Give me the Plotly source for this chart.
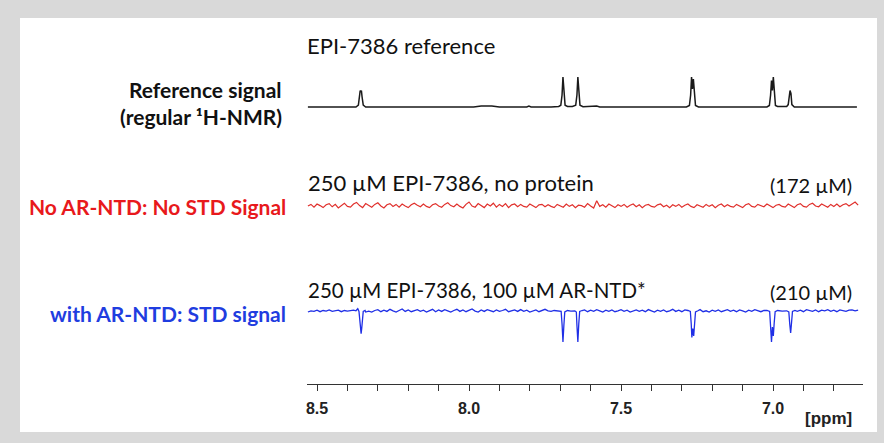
import numpy as np
import plotly.graph_objects as go

W, H = 884, 443

# ---------------- data ----------------
tick_vals = [8.5, 8.0, 7.5, 7.0]
tick_text = ["8.5", "8.0", "7.5", "7.0"]

# Reference 1H spectrum (ppm, relative intensity)
ref_ppm = [8.530, 8.450, 8.445, 8.440, 8.372, 8.364, 8.360, 8.358, 8.356, 8.354, 8.352, 8.348, 8.340,
           8.045, 8.040, 8.035, 7.985, 7.960, 7.945, 7.925, 7.900, 7.810, 7.803, 7.796,
           7.730, 7.705, 7.698, 7.694, 7.691, 7.688, 7.684, 7.676, 7.660, 7.649, 7.645, 7.642,
           7.639, 7.635, 7.625, 7.590, 7.580, 7.570, 7.390, 7.385, 7.380,
           7.285, 7.275, 7.271, 7.268, 7.265, 7.262, 7.259, 7.255, 7.245, 7.180, 7.175, 7.170,
           7.085, 7.080, 7.075, 7.020, 7.012, 7.008, 7.005, 7.002, 6.999, 6.996, 6.992, 6.985,
           6.955, 6.950, 6.947, 6.944, 6.941, 6.938, 6.930, 6.724]
ref_int = [0.00, 0.00, 0.012, 0.00, 0.00, 0.06, 0.35, 0.55, 0.50, 0.55, 0.35, 0.06, 0.00,
           0.00, 0.025, 0.00, 0.00, 0.03, 0.04, 0.03, 0.00, 0.00, 0.03, 0.00,
           0.00, 0.02, 0.06, 0.40, 1.00, 0.40, 0.06, 0.02, 0.02, 0.06, 0.40, 1.00,
           0.40, 0.06, 0.01, 0.03, 0.03, 0.00, 0.00, 0.012, 0.00,
           0.00, 0.05, 0.40, 1.00, 0.60, 0.93, 0.40, 0.05, 0.00, 0.00, 0.012, 0.00,
           0.00, 0.012, 0.00, 0.00, 0.05, 0.40, 0.88, 0.55, 1.00, 0.40, 0.05, 0.02,
           0.02, 0.08, 0.45, 0.55, 0.45, 0.08, 0.00, 0.00]

# STD spectrum without protein (noise only), sampled every 0.01 ppm from 8.53 to 6.72
red_vals = [0.00, 0.04, -0.03, 0.05, 0.01, -0.04, 0.03, 0.06, -0.02, 0.04,
            -0.05, 0.02, 0.07, -0.01, -0.03, 0.05, 0.09, 0.01, -0.04, 0.06,
            0.01, -0.03, 0.04, 0.08, 0.00, -0.05, 0.03, 0.06, -0.01, 0.04,
            -0.03, 0.05, 0.00, -0.04, 0.03, 0.07, 0.02, -0.02, 0.05, -0.01,
            -0.04, 0.03, 0.06, 0.00, -0.03, 0.04, 0.08, 0.01, -0.02, 0.05,
            -0.01, -0.05, 0.04, 0.10, 0.00, -0.03, 0.06, 0.01, -0.04, 0.05,
            0.00, 0.07, -0.03, 0.04, -0.01, 0.06, -0.04, 0.03, 0.05, -0.02,
            0.04, -0.01, -0.03, 0.05, 0.00, -0.04, 0.03, 0.04, -0.02, 0.03,
            -0.01, -0.04, 0.04, 0.00, -0.03, 0.05, -0.01, 0.03, -0.04, 0.02,
            0.01, -0.03, 0.06, 0.00, -0.05, 0.13, -0.01, 0.03, -0.03, 0.05,
            0.00, -0.04, 0.03, -0.01, 0.04, -0.03, 0.02, 0.05, -0.02, 0.03,
            -0.04, 0.02, 0.04, -0.01, -0.03, 0.03, 0.05, -0.02, 0.02, -0.04,
            0.03, -0.01, 0.04, -0.03, 0.02, 0.05, -0.01, -0.04, 0.03, 0.00,
            -0.03, 0.04, -0.01, 0.03, -0.04, 0.02, 0.05, -0.02, 0.03, -0.01,
            -0.03, 0.04, 0.00, -0.04, 0.03, 0.06, -0.01, -0.03, 0.04, 0.00,
            -0.02, 0.05, 0.01, -0.04, 0.02, 0.04, -0.01, -0.03, 0.05, 0.00,
            -0.04, 0.03, 0.06, -0.01, -0.03, 0.04, 0.07, 0.00, -0.02, 0.05,
            0.01, -0.03, 0.04, -0.01, 0.05, -0.02, 0.03, 0.06, 0.00, 0.04,
            0.10, 0.02]

# ... STD spectrum with AR-NTD: baseline noise (same sampling) ...
blue_vals = [0.00, 0.04, 0.02, 0.06, 0.01, 0.05, 0.03, 0.07, 0.02, 0.04,
             0.06, 0.01, 0.05, 0.03, 0.04, 0.06, 0.08, 0.03, 0.02, 0.00,
             0.03, 0.00, 0.05, 0.08, 0.01, 0.06, 0.02, 0.09, 0.04, 0.00,
             0.05, 0.10, 0.02, 0.07, 0.01, 0.04, 0.08, 0.02, 0.06, 0.00,
             0.04, 0.09, 0.01, 0.07, 0.02, 0.08, 0.04, 0.00, 0.05, 0.09,
             0.02, 0.07, 0.01, 0.05, 0.10, 0.03, 0.00, 0.07, 0.02, 0.08,
             0.04, 0.01, 0.07, 0.02, 0.05, 0.09, 0.01, 0.04, 0.07, 0.02,
             0.08, 0.02, 0.06, 0.00, 0.04, 0.07, 0.01, 0.05, 0.09, 0.04,
             0.02, 0.05, 0.03, 0.06, 0.04, 0.02, 0.03, 0.05, 0.04, 0.03,
             0.04, 0.07, 0.01, 0.06, 0.02, 0.08, 0.04, 0.00, 0.06, 0.02,
             0.07, 0.01, 0.04, 0.08, 0.02, 0.06, 0.00, 0.04, 0.07, 0.02,
             0.06, 0.01, 0.08, 0.04, 0.00, 0.06, 0.02, 0.07, 0.01, 0.04,
             0.09, 0.02, 0.06, 0.01, 0.07, 0.04, 0.00, 0.06, 0.02, 0.08,
             0.01, 0.04, 0.00, 0.06, 0.02, 0.07, 0.01, 0.04, 0.08, 0.02,
             0.06, 0.01, 0.07, 0.04, 0.00, 0.06, 0.02, 0.08, 0.04, 0.01,
             0.05, 0.03, 0.06, 0.02, 0.04, 0.06, 0.03, 0.05, 0.02, 0.04,
             0.07, 0.02, 0.06, 0.01, 0.08, 0.04, 0.02, 0.07, 0.01, 0.06,
             0.04, 0.08, 0.02, 0.06, 0.01, 0.07, 0.04, 0.02, 0.06, 0.07,
             0.04, 0.06]

# ... and its negative STD lines (ppm, intensity)
blue_dip1_ppm = [8.372, 8.366, 8.362, 8.359, 8.357, 8.355, 8.353, 8.351, 8.348, 8.342]
blue_dip1_val = [0.04, 0.11, 0.02, -0.30, -0.60, -0.72, -0.55, -0.25, 0.02, 0.05]
blue_dip2_ppm = [7.705, 7.697, 7.694, 7.691, 7.688, 7.685, 7.676, 7.665, 7.652, 7.647,
                 7.645, 7.642, 7.639, 7.636, 7.628]
blue_dip2_val = [0.04, 0.02, -0.40, -1.00, -0.45, 0.00, 0.05, 0.03, 0.04, 0.00,
                 -0.45, -1.00, -0.40, 0.02, 0.05]
blue_dip3_ppm = [7.280, 7.272, 7.269, 7.267, 7.264, 7.261, 7.258, 7.255, 7.247]
blue_dip3_val = [0.05, 0.02, -0.40, -0.85, -0.55, -0.80, -0.40, 0.00, 0.04]
blue_dip4_ppm = [7.020, 7.011, 7.008, 7.005, 7.002, 6.999, 6.996, 6.993, 6.985, 6.970,
                 6.955, 6.948, 6.945, 6.942, 6.939, 6.936, 6.928]
blue_dip4_val = [0.05, 0.02, -0.45, -1.00, -0.50, -0.80, -0.35, 0.01, 0.05, 0.03,
                 0.04, 0.00, -0.40, -0.70, -0.35, 0.02, 0.05]

NOISE_START, NOISE_END = 8.53, 6.72

# ---------------- build traces ----------------
red_ppm = np.linspace(NOISE_START, NOISE_END, len(red_vals))
grid_ppm = np.linspace(NOISE_START, NOISE_END, len(blue_vals))

dips = [(blue_dip1_ppm, blue_dip1_val), (blue_dip2_ppm, blue_dip2_val),
        (blue_dip3_ppm, blue_dip3_val), (blue_dip4_ppm, blue_dip4_val)]
keep = np.ones(len(grid_ppm), bool)
for p, _ in dips:
    keep &= ~((grid_ppm <= max(p)) & (grid_ppm >= min(p)))
bx = list(grid_ppm[keep])
by = list(np.array(blue_vals)[keep])
for p, v in dips:
    bx += p
    by += v
order = np.argsort(bx)[::-1]
bx = np.array(bx)[order]
by = np.array(by)[order]


def ydom(base_px, px_per_unit, lo, hi):
    top = base_px - hi * px_per_unit
    bot = base_px - lo * px_per_unit
    return [1 - bot / H, 1 - top / H]


fig = go.Figure()
fig.add_trace(go.Scatter(x=ref_ppm, y=ref_int, mode="lines", yaxis="y",
                         line=dict(color="#1a1a1a", width=1.5)))
fig.add_trace(go.Scatter(x=red_ppm, y=red_vals, mode="lines", yaxis="y2",
                         line=dict(color="#e0302c", width=1.2)))
fig.add_trace(go.Scatter(x=bx, y=by, mode="lines", yaxis="y3",
                         line=dict(color="#1f2fe6", width=1.3)))

PXU = 30
fig.update_layout(
    width=W, height=H, margin=dict(l=0, r=0, t=0, b=0),
    paper_bgcolor="#d9d9d9", plot_bgcolor="rgba(0,0,0,0)", showlegend=False,
    xaxis=dict(range=[8.533, 6.704], domain=[307 / W, 863 / W], anchor="free",
               position=1 - 384 / H, showline=True, linecolor="#333", linewidth=1.4,
               ticks="outside", ticklen=6, tickwidth=1.3, tickcolor="#333",
               tickvals=tick_vals, ticktext=tick_text, ticklabelstandoff=4,
               tickfont=dict(family="Liberation Sans, Arial", size=16, color="#222", weight="bold"),
               minor=dict(dtick=0.1, tick0=8.5, ticks="outside", ticklen=6, tickwidth=1.3,
                          tickcolor="#333"),
               showgrid=False, zeroline=False, fixedrange=True),
    yaxis=dict(domain=ydom(107, PXU, -0.3, 1.3), range=[-0.3, 1.3], visible=False, fixedrange=True),
    yaxis2=dict(domain=ydom(206, 40, -0.5, 0.5), range=[-0.5, 0.5], visible=False, fixedrange=True),
    yaxis3=dict(domain=ydom(312, PXU, -1.2, 0.4), range=[-1.2, 0.4], visible=False, fixedrange=True),
)

fig.add_shape(type="rect", xref="paper", yref="paper", x0=20 / W, x1=877 / W,
              y0=1 - 432 / H, y1=1 - 18 / H, fillcolor="white", line=dict(width=0), layer="below")

TF = "Lato, Open Sans, sans-serif"


def ann(text, x, y, anchor, color="#111", bold=False, size=22, family=TF):
    fig.add_annotation(text=text, x=x / W, y=1 - y / H, xref="paper", yref="paper",
                       xanchor=anchor, yanchor="middle", showarrow=False,
                       font=dict(family=family, size=size, color=color,
                                 weight="bold" if bold else "normal"))


ann("EPI-7386 reference", 305, 45, "left")
ann("Reference signal", 284, 89, "right", bold=True, size=21)
ann("(regular ¹H-NMR)", 284, 116, "right", bold=True, size=21)
ann("250 µM EPI-7386, no protein", 306, 182, "left")
ann("(172 µM)", 854, 185, "right", size=20)
ann("No AR-NTD: No STD Signal", 288, 207, "right", color="#e8191c", bold=True, size=21)
ann("250 µM EPI-7386, 100 µM AR-NTD*", 306, 290, "left", size=20.5)
ann("(210 µM)", 854, 292, "right", size=20)
ann("with AR-NTD: STD signal", 288, 313, "right", color="#1f3de0", bold=True, size=21)
ann("[ppm]", 828, 418, "center", color="#222", bold=True, size=17,
    family="Liberation Sans, Arial")

fig.write_html("out.html", config={"displayModeBar": False},
               post_script="document.body.style.margin='0px';document.body.style.padding='0px';")
